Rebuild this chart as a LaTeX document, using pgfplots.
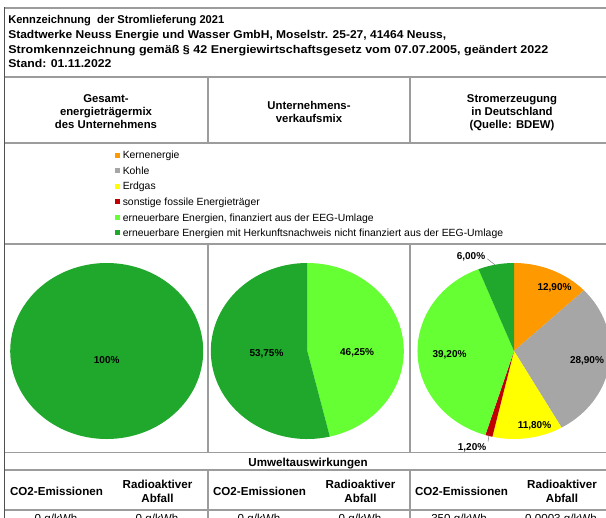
\documentclass[border=0pt]{standalone}
\usepackage{pgfplots}
\pgfplotsset{compat=1.18}
\usepackage{graphicx}
\usepackage{fontspec}
\setmainfont{Liberation Sans}

\definecolor{cKern}{HTML}{FF9900}
\definecolor{cKohle}{HTML}{A6A6A6}
\definecolor{cGas}{HTML}{FFFF00}
\definecolor{cSonst}{HTML}{C00000}
\definecolor{cEEG}{HTML}{66FF33}
\definecolor{cHKN}{HTML}{1FA82B}
\definecolor{rulec}{HTML}{9C9C9C}
\definecolor{lrule}{HTML}{505050}

% pie data: share (%) / colour, clockwise from 12 o'clock
\def\mixGesamt{100/cHKN}
\def\mixVerkauf{46.25/cEEG,53.75/cHKN}
\def\mixDeutschland{12.9/cKern,28.9/cKohle,11.8/cGas,1.2/cSonst,39.2/cEEG,6.0/cHKN}

\newcommand\drawpie[3]{%
  \gdef\cum{0}%
  \foreach \v/\c in #1 {%
    \pgfmathsetmacro\a{90-3.6*\cum}%
    \pgfmathsetmacro\b{90-3.6*(\cum+\v)}%
    \edef\tmp{\noexpand\fill[\c] (axis cs:0,0) -- (axis cs:{cos(\a)},{sin(\a)}) arc[start angle=\a, end angle=\b, x radius=#2, y radius=#3] -- cycle;}%
    \tmp
    \pgfmathsetmacro\newcum{\cum+\v}%
    \xdef\cum{\newcum}%
  }%
}

\pgfplotsset{pieaxis/.style={scale only axis, width=144.75pt, height=132pt,
  xmin=-1, xmax=1, ymin=-1, ymax=1, enlargelimits=false, hide axis, clip=false, anchor=center}}

\newcommand\ttl{\bfseries\fontsize{8.5}{10}\selectfont}
\newcommand\hdr{\bfseries\fontsize{8.5}{10}\selectfont}
\newcommand\lgd{\fontsize{7.8}{9}\selectfont}
\newcommand\pl{\bfseries\fontsize{7.5}{9}\selectfont}
\newcommand\btm{\bfseries\fontsize{8.7}{10}\selectfont}
\newcommand\btr{\fontsize{8.7}{10}\selectfont}

\begin{document}
\begin{tikzpicture}
\path[use as bounding box] (0,0) rectangle (454.5pt,-387.75pt);
\clip (0,0) rectangle (454.5pt,-387.75pt);
\begin{scope}[x=0.75pt,y=-0.75pt]
  % horizontal rules
  \foreach \yy in {8,77,143,244,452.5,470,510}{
    \draw[rulec, line width=1.1pt] (4,\yy) -- (620,\yy);
  }
  % vertical rules
  \foreach \xx in {208,410}{
    \draw[rulec, line width=1.1pt] (\xx,77) -- (\xx,143);
    \draw[rulec, line width=1.1pt] (\xx,244) -- (\xx,452.5);
    \draw[rulec, line width=1.1pt] (\xx,470) -- (\xx,530);
  }
  \draw[lrule, line width=1.4pt] (4.5,7.5) -- (4.5,530);

  % title
  \begin{scope}[every node/.style={inner sep=0pt, anchor=base west, font=\ttl}]
    \node at (8,23.5) {\scalebox{0.98}[1]{Kennzeichnung\ \ der Stromlieferung 2021}};
    \node at (8,38.5) {\scalebox{1.06}[1]{Stadtwerke Neuss Energie und Wasser GmbH, Moselstr. 25-27, 41464 Neuss,}};
    \node at (8,53.5) {\scalebox{1.105}[1]{Stromkennzeichnung gemäß § 42 Energiewirtschaftsgesetz vom 07.07.2005, geändert 2022}};
    \node at (8,68) {\scalebox{1.08}[1]{Stand: 01.11.2022}};
  \end{scope}

  % column headers
  \begin{scope}[every node/.style={inner sep=0pt, anchor=base, font=\hdr}]
    \node at (106,102.5) {Gesamt-};
    \node at (106,115.5) {energieträgermix};
    \node at (106,128.5) {des Unternehmens};
    \node at (309,109) {Unternehmens-};
    \node at (309,122) {verkaufsmix};
    \node at (512,102.5) {Stromerzeugung};
    \node at (512,115.5) {in Deutschland};
    \node at (512,128.5) {(Quelle: BDEW)};
  \end{scope}

  % legend
  \begin{scope}[every node/.style={inner sep=0pt, anchor=base west, font=\lgd}]
    \foreach \yc/\col/\txt in {155/cKern/Kernenergie, 170.7/cKohle/Kohle, 186/cGas/Erdgas,
        201.7/cSonst/sonstige fossile Energieträger,
        217.3/cEEG/{erneuerbare Energien, finanziert aus der EEG-Umlage},
        232.7/cHKN/erneuerbare Energien mit Herkunftsnachweis nicht finanziert aus der EEG-Umlage}{
      \fill[\col] (114.5,\yc-2.5) rectangle (119.5,\yc+2.5);
      \node at (122.5,\yc+3.7) {\txt};
    }
  \end{scope}

  % environmental impact
  \begin{scope}[every node/.style={inner sep=0pt, anchor=base, font=\btm}]
    \node at (308,466) {Umweltauswirkungen};
    \foreach \xc/\xr in {56.5/157.5, 259.5/360.5, 461.5/562}{
      \node at (\xc,495.8) {CO2-Emissionen};
      \node at (\xr,488.4) {Radioaktiver};
      \node at (\xr,502.1) {Abfall};
    }
  \end{scope}
  \begin{scope}[every node/.style={inner sep=0pt, anchor=base, font=\btr}]
    \node at (56,522.5) {0 g/kWh};
    \node at (157,522.5) {0 g/kWh};
    \node at (259,522.5) {0 g/kWh};
    \node at (360,522.5) {0 g/kWh};
    \node at (459,522.5) {350 g/kWh};
    \node at (561,522.5) {0,0003 g/kWh};
  \end{scope}
\end{scope}

% pie 1: Gesamtenergieträgermix
\begin{axis}[pieaxis, at={(80.03pt,-263.25pt)}]
  \drawpie{\mixGesamt}{72.375pt}{66pt}
  \node[font=\pl, inner sep=0pt] at (axis cs:0,-0.10) {100\%};
\end{axis}

% pie 2: Unternehmensverkaufsmix
\begin{axis}[pieaxis, at={(230.48pt,-263.25pt)}]
  \drawpie{\mixVerkauf}{72.375pt}{66pt}
  \node[font=\pl, inner sep=0pt] at (axis cs:-0.423,-0.026) {53,75\%};
  \node[font=\pl, inner sep=0pt] at (axis cs:0.516,-0.015) {46,25\%};
\end{axis}

% pie 3: Stromerzeugung in Deutschland
\begin{axis}[pieaxis, at={(385.5pt,-263.25pt)}]
  \drawpie{\mixDeutschland}{72.375pt}{66pt}
  \node[font=\pl, inner sep=0pt] at (axis cs:0.42,0.717) {12,90\%};
  \node[font=\pl, inner sep=0pt] at (axis cs:0.756,-0.11) {28,90\%};
  \node[font=\pl, inner sep=0pt] at (axis cs:0.212,-0.846) {11,80\%};
  \node[font=\pl, inner sep=0pt] at (axis cs:-0.668,-0.046) {39,20\%};
  \node[font=\pl, inner sep=0pt] at (axis cs:-0.446,1.074) {6,00\%};
  \node[font=\pl, inner sep=0pt] at (axis cs:-0.435,-1.097) {1,20\%};
  \draw[gray, line width=0.4pt] (axis cs:-0.277,1.048) -- (axis cs:-0.197,0.979);
  \draw[gray, line width=0.4pt] (axis cs:-0.269,-1.029) -- (axis cs:-0.259,-0.949);
\end{axis}
\end{tikzpicture}
\end{document}
